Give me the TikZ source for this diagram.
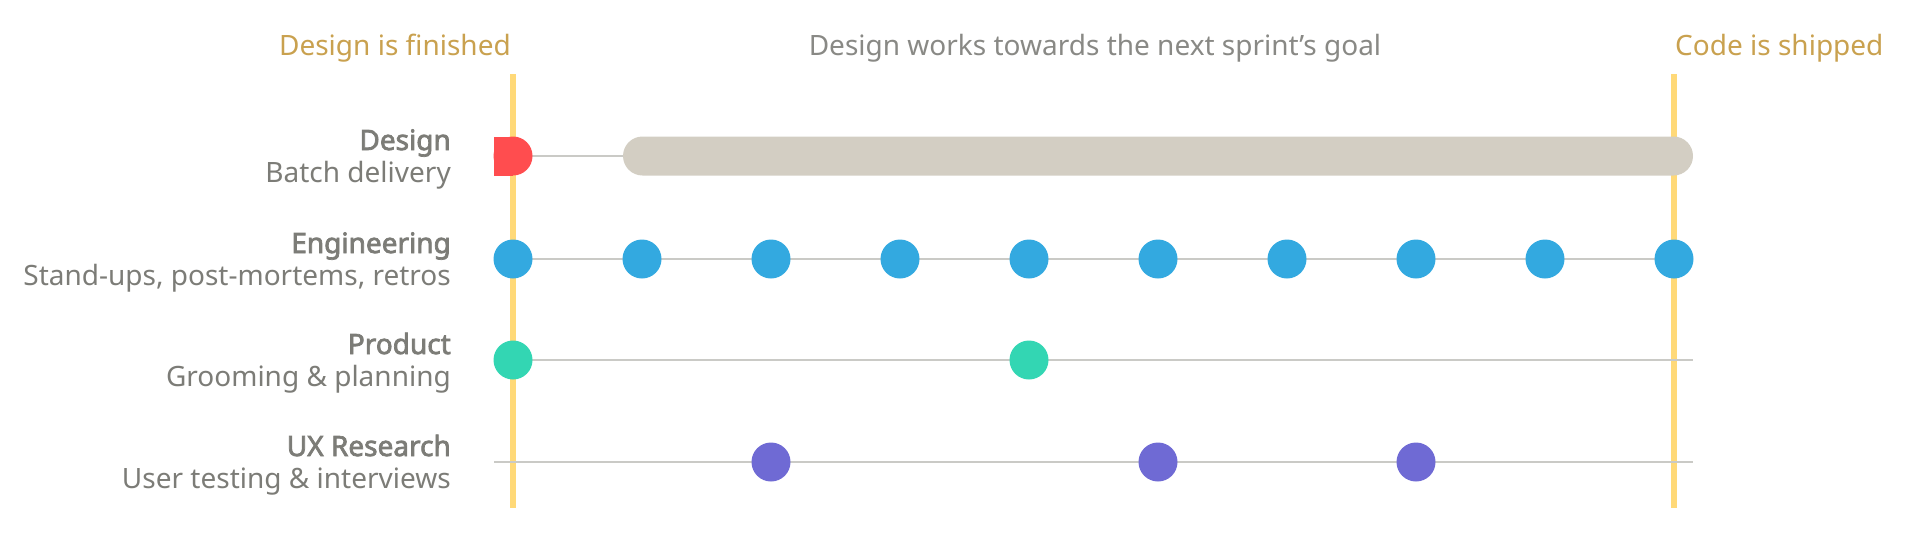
\documentclass[tikz,border=0pt]{standalone}
\usepackage{fontspec}
\setmainfont{Noto Sans}[AutoFakeBold=2.6]
\usepackage{tikz}
\usetikzlibrary{backgrounds, positioning}

\definecolor{milestone}{HTML}{FFD978}
\definecolor{milestonetext}{HTML}{C9A14F}
\definecolor{labeltext}{HTML}{7C7C77}
\definecolor{trackline}{HTML}{CACAC6}
\definecolor{batchred}{HTML}{FF4D4F}
\definecolor{engblue}{HTML}{33A9E0}
\definecolor{prodgreen}{HTML}{33D6B3}
\definecolor{uxpurple}{HTML}{6F6AD4}
\definecolor{sprintbar}{HTML}{D3CEC3}

\tikzset{
  dot/.style={circle, inner sep=0pt, minimum size=39pt},
  track/.style={draw=trackline, line width=1.6pt},
  mark line/.style={draw=milestone, line width=6pt},
  rowhead/.style={anchor=base east, inner sep=0pt, text=labeltext, font=\fontsize{28}{33}\selectfont\bfseries},
  rowsub/.style={anchor=base east, inner sep=0pt, text=labeltext, font=\fontsize{28}{33}\selectfont},
  toplabel/.style={inner sep=0pt, font=\fontsize{28}{33}\selectfont},
}

\begin{document}
\begin{tikzpicture}[x=1pt, y=-1pt]
\useasboundingbox (0,0) rectangle (1916,536);

% milestones
\node[toplabel, anchor=base east, text=milestonetext] (finished) at (511,55) {Design is finished};
\node[toplabel, anchor=base, text=labeltext!90] (goal) at (1095,55) {Design works towards the next sprint’s goal};
\node[toplabel, anchor=base west, text=milestonetext] (shipped) at (1675,55) {Code is shipped};
\coordinate (fin top) at (513,74);
\coordinate (fin bot) at (513,508);
\coordinate (ship top) at (1674,74);
\coordinate (ship bot) at (1674,508);

% row labels
\node[rowhead] (design) at (451,150) {Design};
\node[rowsub] (design sub) at (451,182) {Batch delivery};
\node[rowhead] (eng) at (451,253) {Engineering};
\node[rowsub] (eng sub) at (451,285) {Stand-ups, post-mortems, retros};
\node[rowhead] (prod) at (451,354) {Product};
\node[rowsub] (prod sub) at (451,386) {Grooming \& planning};
\node[rowhead] (ux) at (451,456) {UX Research};
\node[rowsub] (ux sub) at (451,488) {User testing \& interviews};

% design row
\fill[batchred] (494,136.5) rectangle (513,175.5);
\node[dot, fill=batchred] (batch) at (513,156) {};
\node[fill=sprintbar, inner sep=0pt, minimum width=1070pt, minimum height=39pt,
  rounded corners=19.5pt] (sprint) at (1158,156) {};

% engineering row
\foreach \i in {0,...,9}
  \node[dot, fill=engblue] (e\i) at (513+129*\i,259) {};

% product row
\node[dot, fill=prodgreen] (p0) at (513,360) {};
\node[dot, fill=prodgreen] (p1) at (1029,360) {};
\coordinate (p end) at (1693,360);

% ux research row
\coordinate (u start) at (494,462);
\coordinate (u end) at (1693,462);
\foreach \i/\x in {0/771, 1/1158, 2/1416}
  \node[dot, fill=uxpurple] (u\i) at (\x,462) {};

\begin{scope}[on background layer]
\draw[mark line] (fin top) -- (fin bot);
\draw[mark line] (ship top) -- (ship bot);
\draw[track] (batch.center) -- (sprint.west);
\draw[track] (e0.center) -- (e9.center);
\draw[track] (p0.center) -- (p end);
\draw[track] (u start) -- (u end);
\end{scope}
\end{tikzpicture}
\end{document}
